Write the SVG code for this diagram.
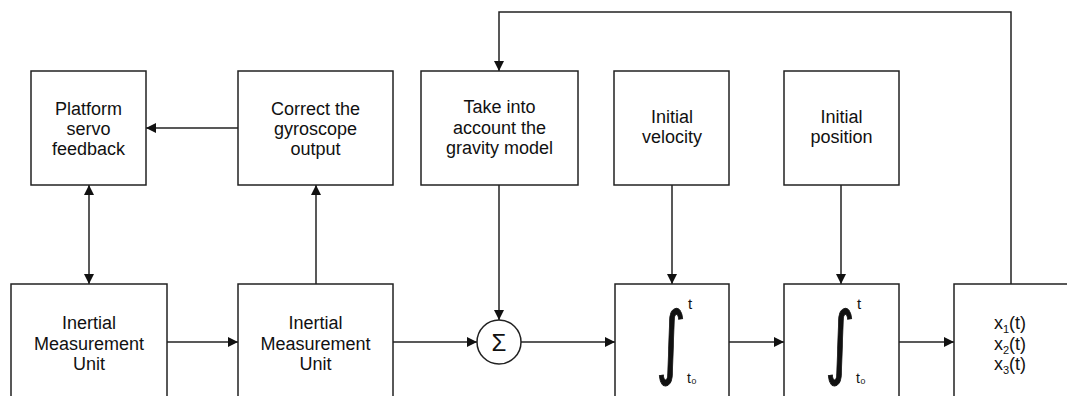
<svg xmlns="http://www.w3.org/2000/svg" width="1067" height="396" viewBox="0 0 1067 396">
<style>
.box{fill:#fff;stroke:#222;stroke-width:1.5}
.ln{fill:none;stroke:#222;stroke-width:1.5}
.t{font-family:"Liberation Sans",Arial,sans-serif;font-size:18px;fill:#111;text-anchor:middle}
.sub{font-size:11px}
.int{font-family:"DejaVu Sans",sans-serif;font-size:80px;fill:#111;stroke:#111;stroke-width:1;text-anchor:middle}
.lim{font-family:"Liberation Sans",Arial,sans-serif;fill:#111;text-anchor:start}
</style>
<defs>
<marker id="ah" viewBox="0 0 10 10" refX="10" refY="5" markerWidth="10" markerHeight="11" markerUnits="userSpaceOnUse" orient="auto-start-reverse">
<path d="M0,0 L10,5 L0,10 z" fill="#111"/>
</marker>
</defs>
<rect width="1067" height="396" fill="#fff"/>
<g id="connectors">
<line class="ln" x1="238" y1="128" x2="146" y2="128" marker-end="url(#ah)"/>
<line class="ln" x1="89" y1="185" x2="89" y2="284" marker-start="url(#ah)" marker-end="url(#ah)"/>
<line class="ln" x1="316" y1="284" x2="316" y2="185" marker-end="url(#ah)"/>
<line class="ln" x1="499" y1="185" x2="499" y2="320" marker-end="url(#ah)"/>
<line class="ln" x1="672" y1="185" x2="672" y2="284" marker-end="url(#ah)"/>
<line class="ln" x1="841" y1="185" x2="841" y2="284" marker-end="url(#ah)"/>
<polyline class="ln" points="1011,284 1011,12 499,12 499,71" marker-end="url(#ah)"/>
<line class="ln" x1="167" y1="342" x2="238" y2="342" marker-end="url(#ah)"/>
<line class="ln" x1="393" y1="342" x2="477" y2="342" marker-end="url(#ah)"/>
<line class="ln" x1="521" y1="342" x2="615" y2="342" marker-end="url(#ah)"/>
<line class="ln" x1="729" y1="342" x2="784" y2="342" marker-end="url(#ah)"/>
<line class="ln" x1="899" y1="342" x2="954" y2="342" marker-end="url(#ah)"/>
</g>
<g id="platform">
<rect class="box" x="31" y="71" width="115" height="114"/>
<text class="t" x="88.5" y="114.5">Platform</text>
<text class="t" x="88.5" y="135">servo</text>
<text class="t" x="88.5" y="155">feedback</text>
</g>
<g id="correct">
<rect class="box" x="238" y="71" width="155" height="114"/>
<text class="t" x="315.5" y="114.5">Correct the</text>
<text class="t" x="315.5" y="135">gyroscope</text>
<text class="t" x="315.5" y="155">output</text>
</g>
<g id="gravity">
<rect class="box" x="421" y="71" width="157" height="114"/>
<text class="t" x="499.5" y="113">Take into</text>
<text class="t" x="499.5" y="133.5">account the</text>
<text class="t" x="499.5" y="154">gravity model</text>
</g>
<g id="velocity">
<rect class="box" x="614" y="71" width="115" height="114"/>
<text class="t" x="672" y="123">Initial</text>
<text class="t" x="672" y="143">velocity</text>
</g>
<g id="position">
<rect class="box" x="784" y="71" width="115" height="114"/>
<text class="t" x="841.5" y="123">Initial</text>
<text class="t" x="841.5" y="143">position</text>
</g>
<g id="imu1">
<rect class="box" x="11" y="284" width="156" height="120"/>
<text class="t" x="89" y="329">Inertial</text>
<text class="t" x="89" y="349.5">Measurement</text>
<text class="t" x="89" y="370">Unit</text>
</g>
<g id="imu2">
<rect class="box" x="238" y="284" width="155" height="120"/>
<text class="t" x="315.5" y="329">Inertial</text>
<text class="t" x="315.5" y="349.5">Measurement</text>
<text class="t" x="315.5" y="370">Unit</text>
</g>
<g id="sum">
<circle class="box" cx="499" cy="342" r="22"/>
<text class="t" x="499" y="350.5" style="font-size:24px">Σ</text>
</g>
<g id="integrator1">
<rect class="box" x="615" y="284" width="114" height="120"/>
<text class="int" transform="translate(671,369) scale(0.72,1)">∫</text>
<text class="lim" x="688" y="309" style="font-size:15px">t</text>
<text class="lim" x="687" y="383" style="font-size:14px">t₀</text>
</g>
<g id="integrator2">
<rect class="box" x="784" y="284" width="115" height="120"/>
<text class="int" transform="translate(840,369) scale(0.72,1)">∫</text>
<text class="lim" x="857" y="309" style="font-size:15px">t</text>
<text class="lim" x="856" y="383" style="font-size:14px">t₀</text>
</g>
<g id="output">
<rect class="box" x="954" y="284" width="120" height="120"/>
<text class="t" x="1010" y="329">x<tspan class="sub" dy="4">1</tspan><tspan dy="-4">(t)</tspan></text>
<text class="t" x="1010" y="349.5">x<tspan class="sub" dy="4">2</tspan><tspan dy="-4">(t)</tspan></text>
<text class="t" x="1010" y="370">x<tspan class="sub" dy="4">3</tspan><tspan dy="-4">(t)</tspan></text>
</g>
</svg>
